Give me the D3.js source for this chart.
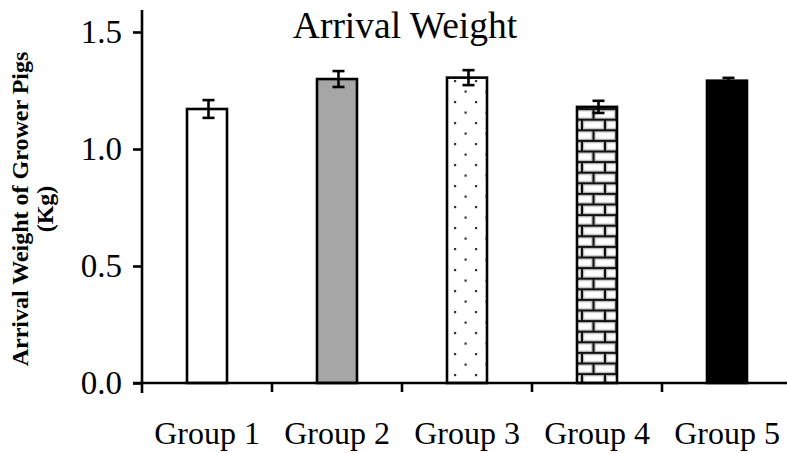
<!DOCTYPE html>
<html>
<head>
<meta charset="utf-8">
<script src="https://cdn.jsdelivr.net/npm/d3@7/dist/d3.min.js"></script>
<style>
  html, body { margin: 0; padding: 0; background: #fff; }
  svg { display: block; font-family: "Liberation Serif", "Times New Roman", serif; }
</style>
</head>
<body>
<svg id="chart" width="787" height="453"></svg>
<script>
// Arrival weight per treatment group (kg), mean ± error
const groups = ["Group 1", "Group 2", "Group 3", "Group 4", "Group 5"];
const weights = [1.171, 1.299, 1.305, 1.180, 1.292];
const errors = [0.038, 0.034, 0.032, 0.026, 0.012];
const yTicks = [0.0, 0.5, 1.0, 1.5];
const titleText = "Arrival Weight";
const yLabelLines = ["Arrival Weight of Grower Pigs", "(Kg)"];

const svg = d3.select("#chart");
const x0 = 142, x1 = 792, yBase = 383;

const x = d3.scaleBand().domain(groups).range([x0, x1]).padding(0);
const y = d3.scaleLinear().domain([0, 1.6]).range([yBase, yBase - 1.6 * 234]);

// Fill patterns
const defs = svg.append("defs");

const dots = defs.append("pattern")
  .attr("id", "dots").attr("patternUnits", "userSpaceOnUse")
  .attr("x", 455).attr("y", 270).attr("width", 21).attr("height", 21);
dots.append("rect").attr("width", 21).attr("height", 21).attr("fill", "#fff");
[[-1, -1], [20, -1], [-1, 20], [20, 20], [9.5, 9.5]].forEach(([px, py]) => {
  dots.append("rect").attr("x", px).attr("y", py).attr("width", 2.2).attr("height", 2.2).attr("fill", "#333");
});

const bw = 23, bh = 10.6;
const brick = defs.append("pattern")
  .attr("id", "brick").attr("patternUnits", "userSpaceOnUse")
  .attr("x", 582).attr("y", 183.3).attr("width", bw).attr("height", bh * 2);
brick.append("rect").attr("width", bw).attr("height", bh * 2).attr("fill", "#fff");
// mortar: grey halo then dark core
const mortar = [
  [0, 0, bw, 0], [0, bh, bw, bh], [0, bh * 2, bw, bh * 2],
  [0, 0, 0, bh], [bw, 0, bw, bh], [bw / 2, bh, bw / 2, bh * 2]
];
mortar.forEach(([a, b, c, d]) => {
  brick.append("line").attr("x1", a).attr("y1", b).attr("x2", c).attr("y2", d)
    .attr("stroke", "#bbb").attr("stroke-width", 4.5);
});
mortar.forEach(([a, b, c, d]) => {
  brick.append("line").attr("x1", a).attr("y1", b).attr("x2", c).attr("y2", d)
    .attr("stroke", "#111").attr("stroke-width", 2);
});

const fills = ["#fff", "#a6a6a6", "url(#dots)", "url(#brick)", "#000"];

// Bars
const barW = 40;
svg.append("g").selectAll("rect")
  .data(groups)
  .join("rect")
  .attr("x", d => x(d) + x.bandwidth() / 2 - barW / 2)
  .attr("y", (d, i) => y(weights[i]))
  .attr("width", barW)
  .attr("height", (d, i) => y(0) - y(weights[i]))
  .attr("fill", (d, i) => fills[i])
  .attr("stroke", "#000")
  .attr("stroke-width", 2.6);

// Error bars
const eb = svg.append("g").attr("stroke", "#000").attr("stroke-width", 2.6);
groups.forEach((g, i) => {
  const cx = x(g) + x.bandwidth() / 2 + 1.5;
  const top = y(weights[i] + errors[i]);
  const bot = y(weights[i] - errors[i]);
  eb.append("line").attr("x1", cx).attr("x2", cx).attr("y1", top).attr("y2", bot);
  eb.append("line").attr("x1", cx - 6).attr("x2", cx + 6).attr("y1", top).attr("y2", top);
  eb.append("line").attr("x1", cx - 6).attr("x2", cx + 6).attr("y1", bot).attr("y2", bot);
});

// Y axis
const yAxis = d3.axisLeft(y).tickValues(yTicks).tickFormat(d3.format(".1f"))
  .tickSize(9).tickPadding(11);
const gy = svg.append("g").attr("transform", `translate(${x0},0)`).call(yAxis);
gy.select(".domain").remove();
gy.append("line").attr("x1", 0).attr("x2", 0).attr("y1", 10).attr("y2", 393)
  .attr("stroke", "#000").attr("stroke-width", 2.6);
gy.selectAll(".tick line").attr("stroke-width", 2.6);
gy.selectAll(".tick text").attr("font-size", 33).attr("fill", "#000")
  .attr("font-family", "'Liberation Serif', 'Times New Roman', serif");

// X axis
const xAxis = d3.axisBottom(x).tickSize(0).tickPadding(0);
const gx = svg.append("g").attr("transform", `translate(0,${yBase})`).call(xAxis);
gx.select(".domain").remove();
gx.append("line").attr("x1", 133).attr("x2", 787).attr("y1", 0).attr("y2", 0)
  .attr("stroke", "#000").attr("stroke-width", 2.6);
gx.selectAll(".tick text").attr("font-size", 32).attr("fill", "#000")
  .attr("y", 61).attr("dy", null)
  .attr("font-family", "'Liberation Serif', 'Times New Roman', serif");
// separator ticks between categories
gx.append("g").selectAll("line")
  .data(groups.slice(1))
  .join("line")
  .attr("x1", d => x(d)).attr("x2", d => x(d))
  .attr("y1", 0).attr("y2", 9)
  .attr("stroke", "#000").attr("stroke-width", 2.6);

// Title
svg.append("text")
  .attr("x", 405).attr("y", 38)
  .attr("text-anchor", "middle")
  .attr("font-size", 37.5)
  .text(titleText);

// Y axis label
const yl = svg.append("text")
  .attr("transform", "translate(0,209) rotate(-90)")
  .attr("text-anchor", "middle")
  .attr("font-size", 24)
  .attr("font-weight", "bold");
yl.append("tspan").attr("x", 0).attr("y", 28).text(yLabelLines[0]);
yl.append("tspan").attr("x", 0).attr("y", 53).text(yLabelLines[1]);
</script>
</body>
</html>
